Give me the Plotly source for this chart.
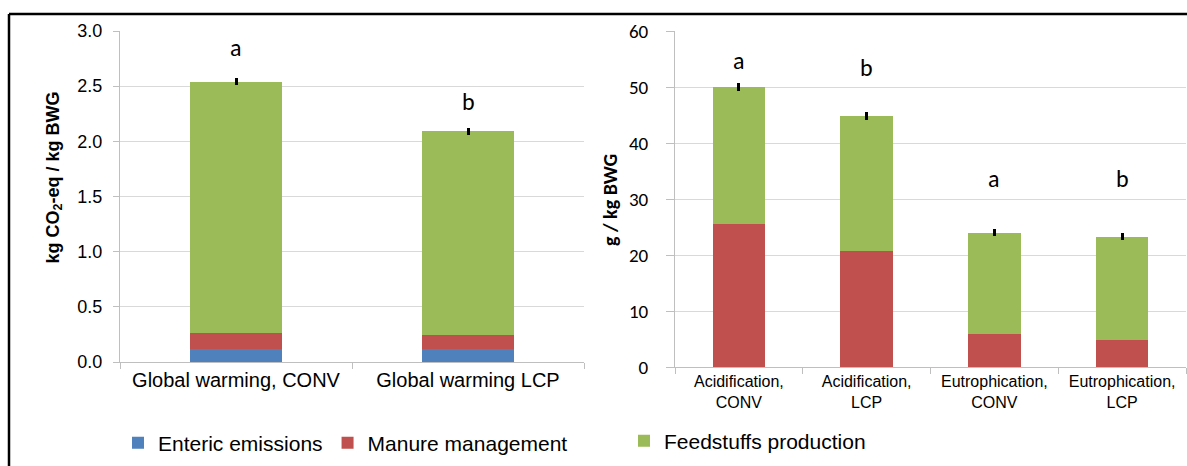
import plotly.graph_objects as go

# ---------------- data ----------------
gw_categories = ["Global warming, CONV", "Global warming LCP"]
gw_enteric = [0.12, 0.12]
gw_manure = [0.14, 0.125]
gw_feed = [2.28, 1.845]
gw_err = [0.03, 0.03]
gw_letters = ["a", "b"]

ae_categories = ["Acidification,<br>CONV", "Acidification,<br>LCP",
                 "Eutrophication,<br>CONV", "Eutrophication,<br>LCP"]
ae_manure = [25.6, 20.8, 5.9, 4.76]
ae_feed = [24.4, 24.0, 18.1, 18.54]
ae_err = [0.7, 0.7, 0.6, 0.6]
ae_letters = ["a", "b", "a", "b"]

# label heights (annotation placement, in data units)
gw_letter_y = [2.855, 2.36]
ae_letter_y = [54.8, 53.4, 33.6, 33.7]

C_BLUE = "#4F81BD"
C_RED = "#C0504D"
C_GREEN = "#9BBB59"
GRID = "#D9D9D9"
AX = "#BFBFBF"
ARIAL = "Liberation Sans, Arial, sans-serif"
CALIBRI = "Carlito, Calibri, Lato, sans-serif"

W, H = 1187, 466
def px(x):
    return x / W
def py(y):
    return (H - y) / H

fig = go.Figure()

fig.add_trace(go.Bar(x=gw_categories, y=gw_enteric, name="Enteric emissions",
                     marker_color=C_BLUE, width=0.4, xaxis="x", yaxis="y",
                     legend="legend"))
fig.add_trace(go.Bar(x=gw_categories, y=gw_manure, name="Manure management",
                     marker_color=C_RED, width=0.4, xaxis="x", yaxis="y",
                     legend="legend"))
fig.add_trace(go.Bar(x=gw_categories, y=gw_feed, name="Feedstuffs production",
                     marker_color=C_GREEN, width=0.4, xaxis="x", yaxis="y",
                     legend="legend2",
                     error_y=dict(type="data", array=gw_err, visible=True,
                                  color="black", thickness=3, width=0)))

fig.add_trace(go.Bar(x=ae_categories, y=ae_manure, name="Manure management",
                     marker_color=C_RED, width=0.41, xaxis="x2", yaxis="y2",
                     showlegend=False))
fig.add_trace(go.Bar(x=ae_categories, y=ae_feed, name="Feedstuffs production",
                     marker_color=C_GREEN, width=0.41, xaxis="x2", yaxis="y2",
                     showlegend=False,
                     error_y=dict(type="data", array=ae_err, visible=True,
                                  color="black", thickness=3, width=0)))

annotations = []
for c, l, yv in zip(gw_categories, gw_letters, gw_letter_y):
    annotations.append(dict(x=c, y=yv, xref="x", yref="y", text=l, showarrow=False,
                            font=dict(family=CALIBRI, size=24, color="black"),
                            yanchor="middle"))
for c, l, yv in zip(ae_categories, ae_letters, ae_letter_y):
    annotations.append(dict(x=c, y=yv, xref="x2", yref="y2", text=l, showarrow=False,
                            font=dict(family=CALIBRI, size=24, color="black"),
                            yanchor="middle"))

# axis titles
annotations.append(dict(x=px(41), y=py(178), xref="paper", yref="paper",
                        text="<b>kg CO<sub>2</sub>-eq / kg BWG</b>", textangle=-90,
                        showarrow=False, font=dict(family=ARIAL, size=18, color="black")))
annotations.append(dict(x=px(610), y=py(200), xref="paper", yref="paper",
                        text="<b>g / kg BWG</b>", textangle=-90,
                        showarrow=False, font=dict(family=CALIBRI, size=20, color="black")))

shapes = [
    dict(type="line", xref="paper", yref="paper", x0=px(9), x1=1.0, y0=py(14), y1=py(14),
         line=dict(color="black", width=2.5)),
    dict(type="line", xref="paper", yref="paper", x0=px(9), x1=px(9), y0=0, y1=py(14),
         line=dict(color="black", width=2.5)),
]

fig.update_layout(
    template="none",
    width=W, height=H,
    margin=dict(l=0, r=0, t=0, b=0, pad=0, autoexpand=False),
    paper_bgcolor="white", plot_bgcolor="white",
    barmode="stack",
    bargap=0.6,
    hovermode=False,
    xaxis=dict(domain=[px(120), px(584)], anchor="y", type="category", automargin=False,
               showline=True, linecolor=AX, linewidth=1,
               ticks="outside", tickson="boundaries", ticklen=6, tickcolor=AX,
               showgrid=False, zeroline=False,
               tickfont=dict(family=ARIAL, size=20, color="black")),
    yaxis=dict(domain=[py(362), py(31)], anchor="x", range=[0, 3.0], dtick=0.5,
               automargin=False,
               tickformat=".1f", showline=True, linecolor=AX, linewidth=1,
               ticks="outside", ticklen=6, tickcolor=AX,
               showgrid=True, gridcolor=GRID, gridwidth=1, zeroline=False,
               ticklabelstandoff=7,
               tickfont=dict(family=ARIAL, size=18, color="black")),
    xaxis2=dict(domain=[px(675), px(1186)], anchor="y2", type="category", automargin=False,
                showline=True, linecolor=AX, linewidth=1,
                ticks="outside", tickson="boundaries", ticklen=6, tickcolor=AX,
                showgrid=False, zeroline=False,
                tickfont=dict(family=ARIAL, size=16, color="black")),
    yaxis2=dict(domain=[py(367), py(31)], anchor="x2", range=[0, 60], dtick=10,
                automargin=False,
                showline=True, linecolor=AX, linewidth=1,
                ticks="outside", ticklen=8, tickcolor=AX,
                showgrid=True, gridcolor=GRID, gridwidth=1, zeroline=False,
                ticklabelstandoff=14,
                tickfont=dict(family=CALIBRI, size=19, color="black")),
    legend=dict(orientation="h", x=px(118), y=py(443), xanchor="left", yanchor="middle",
                bgcolor="rgba(0,0,0,0)", borderwidth=0, traceorder="normal",
                font=dict(family=ARIAL, size=21, color="black"), itemclick=False),
    legend2=dict(orientation="h", x=px(624), y=py(441), xanchor="left", yanchor="middle",
                 bgcolor="rgba(0,0,0,0)", borderwidth=0,
                 font=dict(family=ARIAL, size=21, color="black"), itemclick=False),
    annotations=annotations,
    shapes=shapes,
    showlegend=True,
)

fig.write_html("out.html", config={"displayModeBar": False},
               post_script="document.body.style.margin='0';document.body.style.overflow='hidden';")
